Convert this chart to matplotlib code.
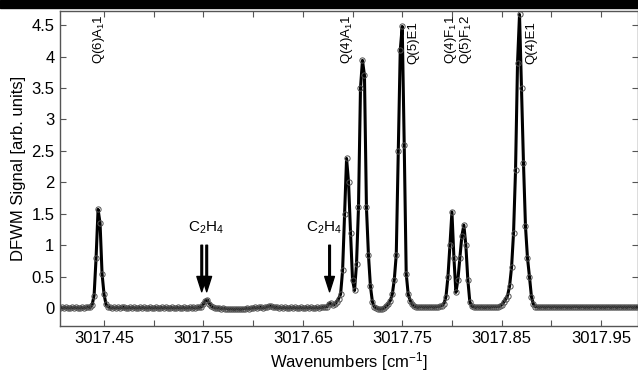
import numpy as np
import matplotlib
matplotlib.use("Agg")
import matplotlib.pyplot as plt
from matplotlib.patches import Rectangle

plt.rcParams["font.family"] = ["Liberation Sans", "DejaVu Sans"]
plt.rcParams["mathtext.default"] = "regular"

# spectrum sampled on a regular wavenumber grid
x_start = 3017.406
x_step = 0.002
signal = [
    0.00, 0.01, 0.00, 0.01, 0.00, 0.00, 0.01, 0.00, 0.01, 0.00,
    0.00, 0.01, 0.00, 0.01, 0.02, 0.01, 0.05, 0.20, 0.80, 1.57,
    1.35, 0.55, 0.22, 0.06, 0.02, 0.01, 0.00, 0.01, 0.00, 0.01,
    0.00, 0.01, 0.01, 0.00, 0.00, 0.01, 0.00, 0.01, 0.00, 0.00,
    0.01, 0.00, 0.01, 0.00, 0.00, 0.01, 0.00, 0.00, 0.01, 0.00,
    0.00, 0.01, 0.00, 0.01, 0.00, 0.00, 0.01, 0.00, 0.00, 0.01,
    0.00, 0.00, 0.01, 0.00, 0.00, 0.01, 0.00, 0.01, 0.00, 0.01,
    0.01, 0.02, 0.06, 0.12, 0.13, 0.07, 0.03, 0.01, 0.00, 0.00,
    0.00, -0.01, 0.00, -0.01, -0.01, -0.02, -0.01, -0.02, -0.02, -0.01,
    -0.02, -0.02, -0.01, -0.01, 0.00, -0.01, 0.00, 0.00, 0.01, 0.00,
    0.01, 0.01, 0.00, 0.01, 0.02, 0.03, 0.03, 0.02, 0.01, 0.01,
    0.00, 0.01, 0.00, 0.01, 0.00, 0.00, 0.01, 0.00, 0.01, 0.00,
    0.00, 0.01, 0.00, 0.00, 0.01, 0.00, 0.01, 0.00, 0.00, 0.01,
    0.00, 0.01, 0.01, 0.02, 0.02, 0.06, 0.08, 0.05, 0.06, 0.10,
    0.15, 0.22, 0.60, 1.50, 2.38, 2.00, 1.20, 0.45, 0.28, 0.70,
    1.60, 3.50, 3.94, 3.70, 1.60, 0.85, 0.35, 0.10, 0.02, 0.00,
    -0.01, -0.02, -0.01, 0.00, 0.03, 0.06, 0.12, 0.22, 0.45, 0.85,
    2.50, 4.10, 4.48, 2.60, 0.55, 0.22, 0.12, 0.06, 0.03, 0.02,
    0.01, 0.02, 0.02, 0.01, 0.02, 0.01, 0.02, 0.02, 0.01, 0.02,
    0.02, 0.03, 0.04, 0.07, 0.18, 0.50, 1.00, 1.53, 0.80, 0.25,
    0.45, 0.80, 1.15, 1.32, 1.00, 0.45, 0.10, 0.03, 0.02, 0.01,
    0.02, 0.01, 0.02, 0.01, 0.01, 0.02, 0.01, 0.02, 0.02, 0.02,
    0.02, 0.03, 0.05, 0.09, 0.14, 0.20, 0.35, 0.65, 1.20, 2.20,
    3.90, 4.67, 3.50, 2.30, 1.30, 0.80, 0.50, 0.18, 0.06, 0.02,
    0.02, 0.01, 0.02, 0.02, 0.01, 0.02, 0.02, 0.01, 0.02, 0.02,
    0.01, 0.02, 0.01, 0.02, 0.02, 0.01, 0.02, 0.01, 0.02, 0.02,
    0.02, 0.01, 0.02, 0.02, 0.01, 0.02, 0.01, 0.02, 0.02, 0.01,
    0.02, 0.02, 0.01, 0.02, 0.01, 0.02, 0.02, 0.01, 0.02, 0.02,
    0.01, 0.02, 0.02, 0.01, 0.02, 0.01, 0.02, 0.02, 0.01, 0.02, 0.02,
]
wavenumber = x_start + x_step * np.arange(len(signal))

# line assignments (rotated labels); the F1 pair shares one two-line label
line_labels = ["Q(6)A$_1$1", "Q(4)A$_1$1", "Q(5)E1", "Q(4)F$_1$1\nQ(5)F$_1$2", "Q(4)E1"]
line_pos = [3017.4446, 3017.6947, 3017.7614, 3017.8066, 3017.8803]

# C2H4 impurity markers
c2h4_arrows = [3017.5483, 3017.5533, 3017.6769]
c2h4_text_pos = [3017.5530, 3017.6710]

xticks = np.round(np.arange(3017.45, 3017.96, 0.05), 2)
xtick_labels = ["%.2f" % t if i % 2 == 0 else "" for i, t in enumerate(xticks)]
yticks = [0, 0.5, 1, 1.5, 2, 2.5, 3, 3.5, 4, 4.5]
ytick_labels = ["0", "0.5", "1", "1.5", "2", "2.5", "3", "3.5", "4", "4.5"]

fig = plt.figure(figsize=(6.38, 3.73), dpi=100)
ax = fig.add_axes([60 / 638, (373 - 325.7) / 373, 578 / 638, (325.7 - 10.7) / 373])
fig.patches.append(Rectangle((0, 365.5 / 373), 1, 7.5 / 373, transform=fig.transFigure,
                             color="black", zorder=0))

ax.plot(wavenumber, signal, color="black", lw=2.2, zorder=2)
ax.plot(wavenumber, signal, ls="none", marker="o", ms=3.8, mfc="none",
        mec="#505050", mew=0.7, zorder=3)

for lab, xp in zip(line_labels, line_pos):
    ax.text(xp, 3.88, lab, rotation=90, ha="center", va="bottom", fontsize=9.5,
            linespacing=0.95, multialignment="left")

for xp in c2h4_text_pos:
    ax.text(xp, 1.27, "C$_2$H$_4$", ha="center", va="center", fontsize=11)

for xp in c2h4_arrows:
    ax.annotate("", xy=(xp, 0.26), xytext=(xp, 1.0),
                arrowprops=dict(facecolor="black", edgecolor="black", width=1.2,
                                headwidth=7, headlength=11, shrink=0))

ax.set_xlim(3017.4057, 3017.9872)
ax.set_ylim(-0.28, 4.73)
ax.set_xticks(xticks)
ax.set_xticklabels(xtick_labels)
ax.set_yticks(yticks)
ax.set_yticklabels(ytick_labels)
ax.tick_params(direction="in", top=True, right=True, length=4, width=0.8,
               color="#555555", labelsize=12, pad=4)
for s in ax.spines.values():
    s.set_color("#555555")
    s.set_linewidth(1.0)

ax.set_xlabel("Wavenumbers [cm$^{-1}$]", fontsize=12, labelpad=3)
ax.set_ylabel("DFWM Signal [arb. units]", fontsize=12, labelpad=4)

fig.savefig("out.png", dpi=100)
